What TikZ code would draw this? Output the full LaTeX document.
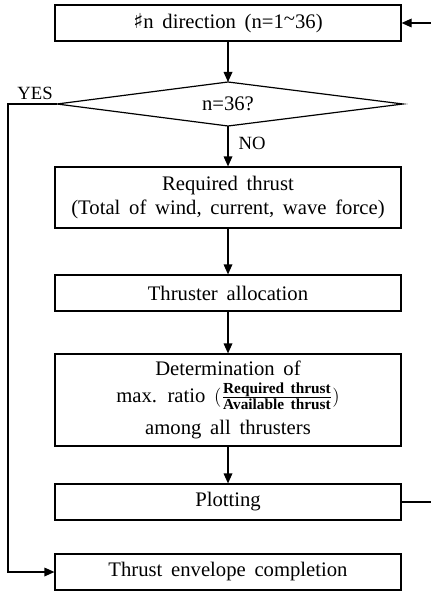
\documentclass[tikz,border=0pt]{standalone}
\usepackage{fontspec}
\setmainfont[WordSpace=1.7]{Liberation Serif}
\newfontfamily\symfont{DejaVu Sans}
\usetikzlibrary{shapes.geometric,arrows.meta}
\tikzset{
  box/.style={draw, line width=0.9pt, minimum width=259.5pt, inner sep=0pt, align=center, font=\fontsize{15.5}{18}\selectfont},
  conn/.style={line width=0.9pt},
  arr/.style={line width=0.9pt, -{Triangle[length=7.5pt,width=6.5pt]}},
  lbl/.style={font=\fontsize{14}{16}\selectfont, inner sep=0pt}
}
\begin{document}
\begin{tikzpicture}[x=0.75pt,y=-0.75pt]
\useasboundingbox (0,0) rectangle (431,592);
\node[box, minimum height=27pt] (b1) at (228,23) {{\symfont ♯}n direction (n=1\raisebox{0.3ex}{\textasciitilde}36)};
\coordinate (dl) at (57,104);
\coordinate (dt) at (228,82);
\coordinate (dr) at (403,104);
\coordinate (db) at (228,126);
\draw[conn, line join=miter] (dl) -- (dt) -- (dr) -- (db) -- cycle;
\node[font=\fontsize{15.5}{18}\selectfont] (d) at (228,104) {n=36?};
\node[box, minimum height=45.75pt] (b2) at (228,197.5) {Required thrust\\(Total of wind, current, wave force)};
\node[box, minimum height=69pt] (b4) at (228,400) {Determination of\\[2pt]
 max. ratio $\Bigl(\frac{\mbox{\fontsize{11.5}{12}\selectfont\bfseries Required thrust}}{\mbox{\fontsize{11.5}{12}\selectfont\bfseries Available thrust}}\Bigr)$\\[6pt]
 among all thrusters};
\node[box, minimum height=27pt] (b3) at (228,293) {Thruster allocation};
\node[box, minimum height=27pt] (b5) at (228,502) {Plotting};
\node[box, minimum height=27pt] (b6) at (228,572) {Thrust envelope completion};
\node[lbl] (yes) at (35,93) {YES};
\node[lbl] (no) at (252,143) {NO};
\coordinate (yl1) at (8,104);
\coordinate (yl2) at (8,572);
\coordinate (rl1) at (434,502);
\coordinate (rl2) at (434,23);
\draw[arr] (b1) -- (dt);
\draw[arr] (db) -- (b2);
\draw[arr] (b2) -- (b3);
\draw[arr] (b3) -- (b4);
\draw[arr] (b4) -- (b5);
\draw[arr] (dl) -- (yl1) -- (yl2) -- (b6.west);
\draw[arr] (b5.east) -- (rl1) -- (rl2) -- (b1.east);
\end{tikzpicture}
\end{document}
